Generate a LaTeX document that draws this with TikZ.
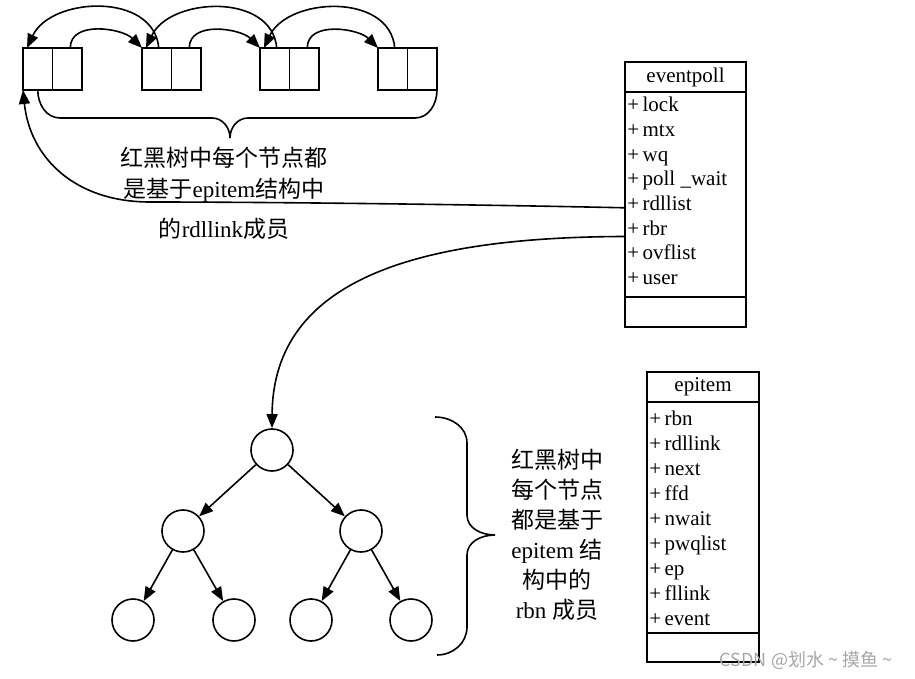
\documentclass[tikz,border=0pt]{standalone}
\usepackage{fontspec}
\setmainfont{Liberation Serif}
\newfontfamily\cjk{Noto Sans CJK SC}
\usetikzlibrary{arrows.meta,positioning}

\begin{document}
\begin{tikzpicture}[x=1pt, y=1pt, line width=1.6pt,
  cell/.style={draw, minimum width=29.5pt, minimum height=42pt, inner sep=0pt, outer sep=0pt},
  rbnode/.style={draw, circle, minimum size=42pt, inner sep=0pt},
  classbox/.style={draw, inner sep=0pt, outer sep=0pt, font=\fontsize{21}{24}\selectfont},
  field/.style={anchor=west, inner xsep=1.5pt, inner ysep=0pt, text height=1.6ex, text depth=.4ex, font=\fontsize{21}{24}\selectfont},
  note/.style={align=center, font=\fontsize{23}{31}\selectfont},
  arr/.style={-{Triangle[length=14pt, width=11pt]}}
]
\path[use as bounding box] (0,0) rectangle (915,678);

\foreach \i/\x in {1/23, 2/142, 3/260, 4/378} {
  \node[cell, anchor=north west] (l\i a) at (\x,630) {};
  \node[cell, right=0pt of l\i a] (l\i b) {};
}
\foreach \i/\j in {1/2, 2/3, 3/4} {
  \draw[arr] ([xshift=3pt]l\i b.north) to[out=90, in=135] (l\j a.north west);
  \draw[arr] ([xshift=2pt]l\j a.north) to[out=95, in=65, looseness=1.1] ([xshift=4pt]l\i a.north west);
}
\draw (l1a.south) to[out=-90, in=180] (60,560) -- (212,560) to[out=0, in=90] (230,540)
  to[out=90, in=180] (248,560) -- (415,560) to[out=0, in=-90] (l4b.south east);

\node[note] (rdnote) at (224,485) {{\cjk 红黑树中每个节点都}\\ {\cjk 是基于}epitem{\cjk 结构中}\\[9pt] {\cjk 的}rdllink{\cjk 成员}};

\node[classbox, minimum width=121pt, minimum height=30pt] (ep) at (685.5,601) {eventpoll};
\node[classbox, minimum width=121pt, minimum height=205pt, below=0pt of ep] (ep-body) {};
\node[classbox, minimum width=121pt, minimum height=30pt, below=0pt of ep-body] (ep-foot) {};
\foreach \n/\t [count=\i] in {lock/lock, mtx/mtx, wq/wq, pollwait/{poll \_wait}, rdllist/rdllist, rbr/rbr, ovflist/ovflist, user/user}
  \node[field, yshift={7.7pt-24.7pt*\i}] (ep-\n) at (ep-body.north west) {+\,\t};

\node[classbox, minimum width=112pt, minimum height=30pt] (ei) at (703,291) {epitem};
\node[classbox, minimum width=112pt, minimum height=231pt, below=0pt of ei] (ei-body) {};
\node[classbox, minimum width=112pt, minimum height=29pt, below=0pt of ei-body] (ei-foot) {};
\foreach \n [count=\i] in {rbn, rdllink, next, ffd, nwait, pwqlist, ep, fllink, event}
  \node[field, yshift={4pt-25pt*\i}] (ei-\n) at (ei-body.north west) {+\,\n};

\node[rbnode] (rb0) at (272,228) {};
\node[rbnode] (rb1) at (183,147) {};
\node[rbnode] (rb2) at (361,147) {};
\node[rbnode] (rb3) at (133,58) {};
\node[rbnode] (rb4) at (234,58) {};
\node[rbnode] (rb5) at (311,58) {};
\node[rbnode] (rb6) at (411,58) {};
\foreach \a/\b in {rb0/rb1, rb0/rb2, rb1/rb3, rb1/rb4, rb2/rb5, rb2/rb6}
  \draw[arr] (\a) -- (\b);

\draw (435,261) to[out=0, in=90] (467,235) -- (467,163) to[out=-90, in=180] (495,143)
  to[out=180, in=90] (467,123) -- (467,51) to[out=-90, in=0] (437,23);
\node[note, font=\fontsize{23}{30}\selectfont] (rbnote) at (557,143) {{\cjk 红黑树中}\\ {\cjk 每个节点}\\ {\cjk 都是基于}\\ epitem {\cjk 结}\\ {\cjk 构中的}\\ rbn {\cjk 成员}};

\draw[arr] (ep-rdllist.west) .. controls (450,474) and (250,476) .. (150,476)
  .. controls (75,476) and (30,520) .. (l1a.south west);
\draw[arr] ([yshift=-4pt]ep-rbr.west) .. controls (420,441) and (273,400) .. (rb0.north);

\node[text=gray!70, font=\cjk\fontsize{18}{20}\selectfont] (wm) at (806,18) {CSDN @划水 \textasciitilde{} 摸鱼 \textasciitilde{}};
\end{tikzpicture}
\end{document}
